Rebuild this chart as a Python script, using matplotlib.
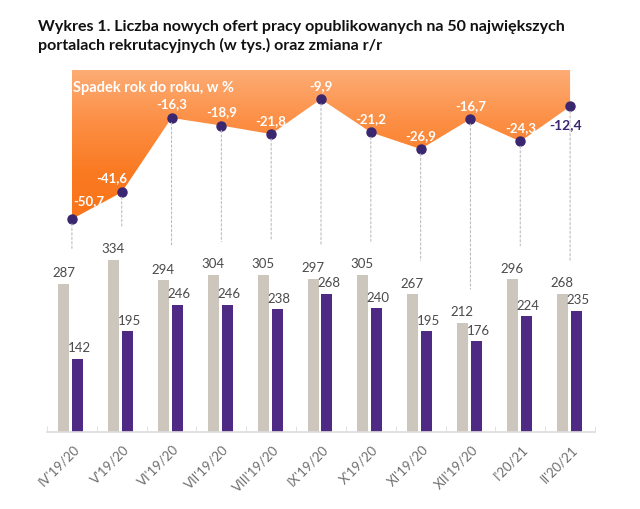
import numpy as np
import matplotlib
matplotlib.use("Agg")
import matplotlib.pyplot as plt
from matplotlib.patches import ConnectionPatch, Polygon
from matplotlib.colors import LinearSegmentedColormap

# data
months = ["IV'19/20", "V'19/20", "VI'19/20", "VII'19/20", "VIII'19/20", "IX'19/20",
          "X'19/20", "XI'19/20", "XII'19/20", "I'20/21", "II'20/21"]
offers_prev = [287, 334, 294, 304, 305, 297, 305, 267, 212, 296, 268]
offers_curr = [142, 195, 246, 246, 238, 268, 240, 195, 176, 224, 235]
change_yoy = [-50.7, -41.6, -16.3, -18.9, -21.8, -9.9, -21.2, -26.9, -16.7, -24.3, -12.4]

gray = "#cdc6bd"
purple = "#4e2a84"
dot = "#3b2670"

plt.rcParams['font.family'] = ['Lato', 'DejaVu Sans']

fig = plt.figure(figsize=(6.4, 5.09), dpi=100)
W, H = 640, 509
left, right = 47, 595
top, base = 70, 432
ax = fig.add_axes([left / W, 1 - base / H, (right - left) / W, (base - top) / H])
ax2 = ax.twinx()
ax.patch.set_visible(False)
ax2.patch.set_visible(False)

x = np.arange(len(months))

# bars
ax.bar(x - 0.16, offers_prev, width=0.22, color=gray, zorder=2)
ax.bar(x + 0.12, offers_curr, width=0.22, color=purple, zorder=2)
for i in x:
    ax.text(i - 0.17, offers_prev[i] + 9, str(offers_prev[i]), ha='center', va='bottom',
            fontsize=9.5, color='#4a4a4a')
    ax.text(i + 0.15, offers_curr[i] + 9, str(offers_curr[i]), ha='center', va='bottom',
            fontsize=9.5, color='#4a4a4a')
ax.set_xlim(-0.5, 10.5)
ax.set_ylim(0, (base - top) / 0.516)

# orange area with gradient
ax2.set_ylim(-(base - top) / 2.94, 0)
cmap = LinearSegmentedColormap.from_list('or', ['#fdac75', '#fc8f45', '#fa7a22', '#f97318'])
grad = np.linspace(0, 1, 256).reshape(-1, 1)
img = ax2.imshow(grad, extent=[0, 10, -52, 0], aspect='auto', cmap=cmap, zorder=1,
                 origin='upper')
poly = Polygon(list(zip(x, change_yoy)) + [(10, 0), (0, 0)], closed=True,
               transform=ax2.transData, facecolor='none', edgecolor='none')
ax2.add_patch(poly)
img.set_clip_path(poly)
ax2.plot(x, change_yoy, 'o', color=dot, markersize=6.5, zorder=5)

# dashed connectors
for i in x:
    top_bar = max(offers_prev[i], offers_curr[i])
    con = ConnectionPatch(xyA=(i, change_yoy[i]), coordsA=ax2.transData,
                          xyB=(i, top_bar + 65), coordsB=ax.transData,
                          shrinkA=3.5, shrinkB=0,
                          linestyle=(0, (2, 2)), color='#bdbdbd', linewidth=0.8, zorder=3)
    fig.add_artist(con)

# value labels
for i in x:
    lab = f"{change_yoy[i]:.1f}".replace('.', ',')
    if i == 0:
        ax2.text(i + 0.02, change_yoy[i] + 4, lab, ha='left', va='bottom', fontsize=9.5,
                 color='white', fontweight='bold', zorder=6)
    elif i == 1:
        ax2.text(i - 0.2, change_yoy[i] + 2.8, lab, ha='center', va='bottom', fontsize=9.5,
                 color='white', fontweight='bold', zorder=6)
    elif i == 10:
        ax2.text(i - 0.1, change_yoy[i] - 4.2, lab, ha='center', va='top', fontsize=10,
                 color=dot, fontweight='bold', zorder=6)
    else:
        ax2.text(i, change_yoy[i] + 2.5, lab, ha='center', va='bottom', fontsize=9.5,
                 color='white', fontweight='bold', zorder=6)
ax2.text(0.03, -6, "Spadek rok do roku, w %", ha='left', va='center', fontsize=10.5,
         color='white', fontweight='bold', zorder=6)

# axes styling
for a in (ax, ax2):
    for s in a.spines.values():
        s.set_visible(False)
    a.set_yticks([])
ax.spines['bottom'].set_visible(True)
ax.spines['bottom'].set_color('#dddddd')
ax.spines['bottom'].set_linewidth(1.2)
ax.set_xticks(np.arange(-0.5, 10.6, 1), minor=True)
ax.tick_params(axis='x', which='minor', direction='in', length=4, color='#dddddd')
ax.set_xticks(x + 0.02)
ax.set_xticklabels(months, rotation=45, ha='right', rotation_mode='anchor',
                   fontsize=9.5, color='#6e6e6e')
ax.tick_params(axis='x', which='major', length=0, pad=8)

fig.text(38 / W, 1 - 20 / H,
         "Wykres 1. Liczba nowych ofert pracy opublikowanych na 50 największych\n"
         "portalach rekrutacyjnych (w tys.) oraz zmiana r/r",
         ha='left', va='top', fontsize=11.5, fontweight='bold', color='#111111',
         linespacing=1.3)

fig.savefig("out.png", dpi=100, facecolor='white')
